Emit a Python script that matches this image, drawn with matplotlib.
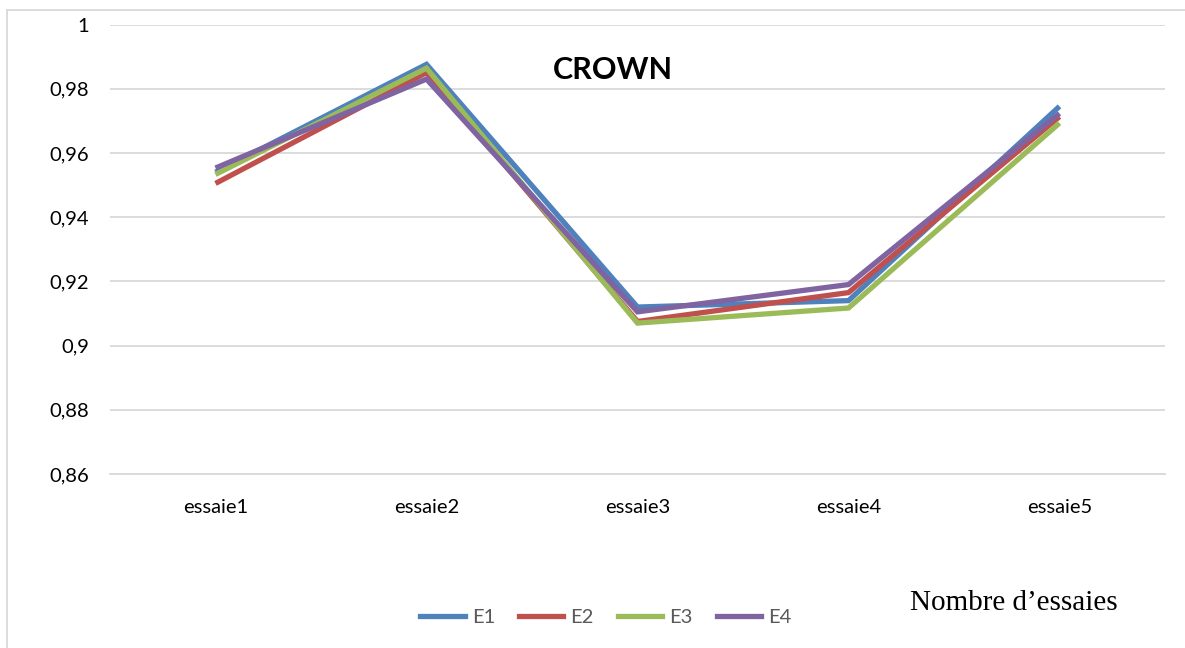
import matplotlib
matplotlib.use("Agg")
import matplotlib.pyplot as plt
from matplotlib.lines import Line2D

categories = ["essaie1", "essaie2", "essaie3", "essaie4", "essaie5"]
series_names = ["E1", "E2", "E3", "E4"]
e1 = [0.954, 0.9876, 0.912, 0.914, 0.9745]
e2 = [0.9505, 0.985, 0.9075, 0.9165, 0.9713]
e3 = [0.9533, 0.9864, 0.907, 0.9117, 0.9693]
e4 = [0.9553, 0.983, 0.9105, 0.919, 0.9723]
yticks = [0.86, 0.88, 0.90, 0.92, 0.94, 0.96, 0.98, 1.0]
ytick_labels = ["0,86", "0,88", "0,9", "0,92", "0,94", "0,96", "0,98", "1"]

colors = ["#4F81BD", "#C0504D", "#9BBB59", "#8064A2"]
font = "Lato"

fig = plt.figure(figsize=(11.85, 6.48), dpi=100)
ax = fig.add_axes([110 / 1185, 1 - 474 / 648, 1055 / 1185, (474 - 24.5) / 648])

x = list(range(len(categories)))
for vals, name, c in zip([e1, e2, e3, e4], series_names, colors):
    ax.plot(x, vals, color=c, lw=3.8, label=name, solid_capstyle="butt",
            solid_joinstyle="miter")

ax.set_xlim(-0.5, len(categories) - 0.5)
ax.set_ylim(0.86, 1.0)
ax.set_yticks(yticks)
ax.set_yticklabels(ytick_labels, fontsize=14.5, family=font, color="#000000")
ax.set_xticks(x)
ax.set_xticklabels(categories, fontsize=14.5, family=font, color="#000000")
ax.tick_params(axis="y", length=0, pad=15)
ax.tick_params(axis="x", length=0, pad=18)
ax.grid(axis="y", color="#D9D9D9", lw=1.3)
ax.set_axisbelow(True)
for s in ["top", "right", "left"]:
    ax.spines[s].set_visible(False)
ax.spines["bottom"].set_color("#D9D9D9")
ax.spines["bottom"].set_linewidth(1.3)

ax.text(0.4768, 0.898, "CROWN", transform=ax.transAxes, ha="center", va="center",
        fontsize=22, fontweight="bold", family=font)

handles = [Line2D([0], [0], color=c, lw=3.8) for c in colors]
leg = fig.legend(handles, series_names, loc="center", bbox_to_anchor=(606 / 1185, 1 - 617 / 648),
                 ncol=4, frameon=False, handlelength=2.2, columnspacing=1.2, handletextpad=0.35,
                 prop={"family": font, "size": 14.5})
for t in leg.get_texts():
    t.set_color("#595959")

fig.text(1014 / 1185, 1 - 603 / 648, "Nombre d\u2019essaies", ha="center", va="center",
         fontsize=21, family="Liberation Serif")

# outer frame (top and left edges)
fig.add_artist(Line2D([7 / 1185, 1], [1 - 10 / 648, 1 - 10 / 648], color="#D9D9D9", lw=1.3,
                      transform=fig.transFigure))
fig.add_artist(Line2D([7 / 1185, 7 / 1185], [0, 1 - 10 / 648], color="#D9D9D9", lw=1.3,
                      transform=fig.transFigure))

fig.savefig("out.png", dpi=100)
